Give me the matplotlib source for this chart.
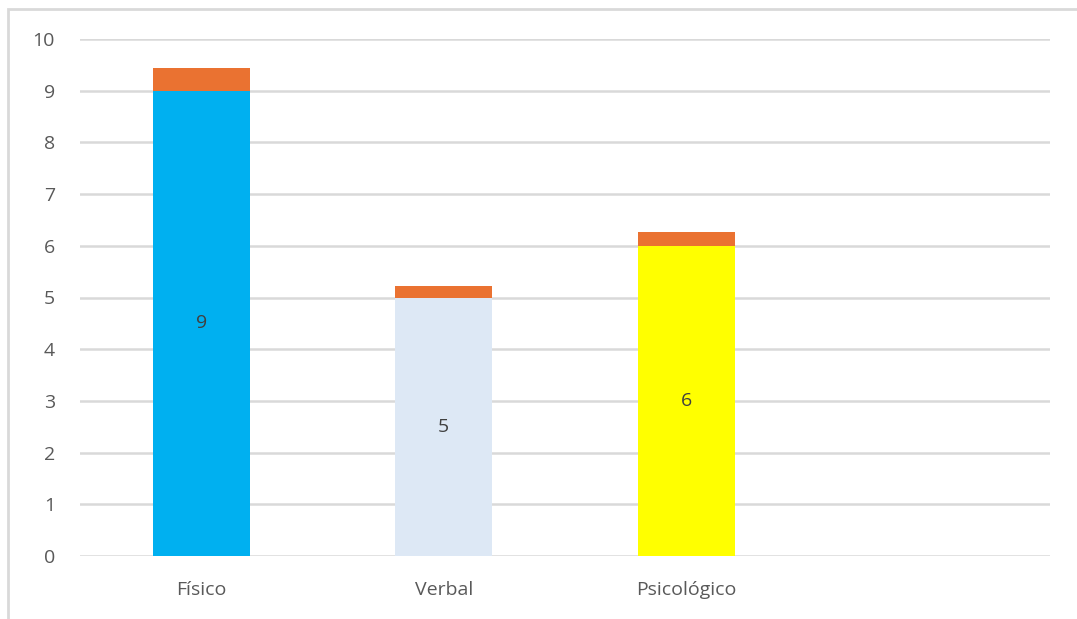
import matplotlib.pyplot as plt
from matplotlib.patches import Rectangle

categories = ["Físico", "Verbal", "Psicológico", ""]
base_values = [9, 5, 6, 0]
top_values = [0.44, 0.22, 0.27, 0]
bar_colors = ["#00b0f0", "#dde8f5", "#ffff00", "#ffffff"]
top_color = "#ea7231"
yticks = list(range(0, 11))

plt.rcParams['font.family'] = ['Open Sans', 'DejaVu Sans']

fig = plt.figure(figsize=(10.77, 6.19), dpi=100)
ax = fig.add_axes([80 / 1077, 1 - 556 / 619, 970 / 1077, 517 / 619])

# outer frame (only top and left visible)
fig.patches.append(Rectangle((8 / 1077, -0.05), 1.1, 1 - 9 / 619 + 0.05,
                             transform=fig.transFigure, fill=False,
                             edgecolor="#d9d9d9", linewidth=2))

x = range(len(categories))
ax.bar(x, base_values, width=0.4, color=bar_colors, zorder=3)
ax.bar(x, top_values, width=0.4, bottom=base_values, color=top_color, zorder=3)

for i, v in enumerate(base_values):
    if v:
        ax.text(i, v / 2, str(v), ha="center", va="center",
                fontsize=14, color="#404040", zorder=4)

ax.set_xlim(-0.5, len(categories) - 0.5)
ax.set_ylim(0, 10)
ax.set_yticks(yticks)
ax.set_xticks(list(x))
ax.set_xticklabels(categories)
ax.tick_params(axis="both", length=0, labelsize=14, colors="#595959")
ax.tick_params(axis="y", pad=18)
ax.tick_params(axis="x", pad=18)
for lbl in ax.get_xticklabels():
    lbl.set_fontstretch("expanded")
ax.grid(axis="y", color="#d9d9d9", linewidth=1.8, zorder=0)
for s in ax.spines.values():
    s.set_visible(False)

fig.savefig("out.png", dpi=100)
